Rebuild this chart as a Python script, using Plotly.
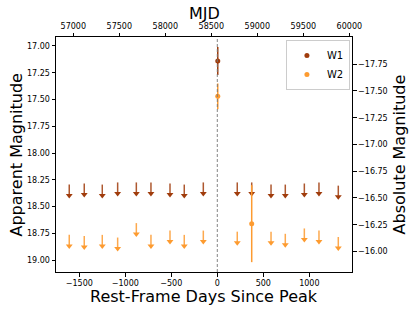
import plotly.graph_objects as go

# ---------------- data ----------------
PEAK_MJD = 58565.0
DIST_MOD = 34.92

# detections (rest-frame days since peak, apparent mag, error)
w1_det_days = [5]
w1_det_mag = [17.14]
w1_det_err = [0.13]

w2_det_days = [5, 374]
w2_det_mag = [17.47, 18.66]
w2_det_err = [0.12, 0.36]

# upper limits (apparent mag)
w1_lim_days = [-1609, -1446, -1250, -1083, -880, -721, -514, -359, -152,
               217, 374, 584, 739, 946, 1105, 1315]
w1_lim_mag = [18.41, 18.40, 18.41, 18.39, 18.39, 18.39, 18.40, 18.41, 18.39,
              18.39, 18.39, 18.41, 18.41, 18.40, 18.39, 18.42]

w2_lim_days = [-1609, -1446, -1250, -1083, -880, -721, -514, -359, -152,
               217, 584, 739, 946, 1105, 1315]
w2_lim_mag = [18.88, 18.89, 18.88, 18.905, 18.77, 18.88, 18.84, 18.88, 18.84,
              18.85, 18.85, 18.87, 18.82, 18.84, 18.90]

left_ticks = [17.00, 17.25, 17.50, 17.75, 18.00, 18.25, 18.50, 18.75, 19.00]
right_ticks = [-17.75, -17.50, -17.25, -17.00, -16.75, -16.50, -16.25, -16.00]
day_ticks = [-1500, -1000, -500, 0, 500, 1000]
mjd_ticks = [57000, 57500, 58000, 58500, 59000, 59500, 60000]

# ---------------- style ----------------
C_W1 = "#a03c0c"
C_W2 = "#fd9b30"
ARROW_LEN = 0.115
FONT = "DejaVu Sans"

X_RANGE = [-1753, 1464]
Y_RANGE = [19.112, 16.916]

fig = go.Figure()


def arrow_trace(days, mags, color):
    xs, ys = [], []
    for d, m in zip(days, mags):
        xs += [d, d, None]
        ys += [m - ARROW_LEN, m, None]
    line = go.Scatter(x=xs, y=ys, mode="lines",
                      line=dict(color=color, width=1.5),
                      opacity=0.85, showlegend=False, hoverinfo="skip")
    heads = go.Scatter(x=days, y=[m - 0.012 for m in mags], mode="markers",
                       marker=dict(symbol="triangle-down", size=6, color=color,
                                   line=dict(width=0)),
                       showlegend=False, hoverinfo="skip")
    return [line, heads]


for t in arrow_trace(w1_lim_days, w1_lim_mag, C_W1):
    fig.add_trace(t)
for t in arrow_trace(w2_lim_days, w2_lim_mag, C_W2):
    fig.add_trace(t)

fig.add_trace(go.Scatter(
    x=w1_det_days, y=w1_det_mag, mode="markers", name="W1",
    marker=dict(symbol="circle", size=5, color=C_W1),
    error_y=dict(type="data", array=w1_det_err, color=C_W1, thickness=1.5, width=0),
))
fig.add_trace(go.Scatter(
    x=w2_det_days, y=w2_det_mag, mode="markers", name="W2",
    marker=dict(symbol="circle", size=5, color=C_W2),
    error_y=dict(type="data", array=w2_det_err, color=C_W2, thickness=1.5, width=0),
))

# invisible trace to carry the secondary (MJD / absolute mag) axes
fig.add_trace(go.Scatter(
    x=[PEAK_MJD + d for d in w1_det_days], y=[m - DIST_MOD for m in w1_det_mag],
    xaxis="x2", yaxis="y2", mode="markers", marker=dict(opacity=0),
    showlegend=False, hoverinfo="skip",
))

fig.add_vline(x=0, line=dict(color="#777777", width=0.9, dash="3px,2px"))

tickfont = dict(family=FONT, size=8, color="black")
titlefont = dict(family=FONT, size=16, color="black")

common = dict(ticks="outside", ticklen=3.5, tickwidth=0.8, tickcolor="black",
              showgrid=False, zeroline=False, showline=True, linecolor="black",
              linewidth=1, tickfont=tickfont, automargin=False)

fig.update_layout(
    width=415, height=312,
    margin=dict(l=56, r=63, t=37, b=40, autoexpand=False),
    paper_bgcolor="white", plot_bgcolor="white",
    font=dict(family=FONT, color="black"),
    xaxis=dict(range=X_RANGE, tickvals=day_ticks, **common),
    xaxis2=dict(range=[PEAK_MJD + X_RANGE[0], PEAK_MJD + X_RANGE[1]],
                overlaying="x", side="top", anchor="y",
                tickvals=mjd_ticks, tickformat="d", **common),
    yaxis=dict(range=Y_RANGE, tickvals=left_ticks, tickformat=".2f", **common),
    yaxis2=dict(range=[Y_RANGE[0] - DIST_MOD, Y_RANGE[1] - DIST_MOD],
                overlaying="y", side="right", anchor="x",
                tickvals=right_ticks, tickformat=".2f", **common),
    legend=dict(x=0.993, y=0.987, xanchor="right", yanchor="top",
                bgcolor="rgba(255,255,255,0.9)", bordercolor="#cccccc", borderwidth=1,
                font=dict(family=FONT, size=10, color="black"),
                itemwidth=30, tracegroupgap=0),
    showlegend=True,
    annotations=[
        dict(text="Apparent Magnitude", xref="paper", yref="paper",
             x=-0.1318, y=0.5, textangle=-90, showarrow=False, font=titlefont,
             xanchor="center", yanchor="middle"),
        dict(text="Absolute Magnitude", xref="paper", yref="paper",
             x=1.162, y=0.5, textangle=-90, showarrow=False, font=titlefont,
             xanchor="center", yanchor="middle"),
        dict(text="Rest-Frame Days Since Peak", xref="paper", yref="paper",
             x=0.5, y=-0.105, showarrow=False, font=titlefont,
             xanchor="center", yanchor="middle"),
        dict(text="MJD", xref="paper", yref="paper",
             x=0.5, y=1.098, showarrow=False, font=titlefont,
             xanchor="center", yanchor="middle"),
    ],
)

fig.write_html(
    "out.html",
    config={"displayModeBar": False},
    post_script="document.body.style.margin='0';document.body.style.overflow='hidden';",
)
